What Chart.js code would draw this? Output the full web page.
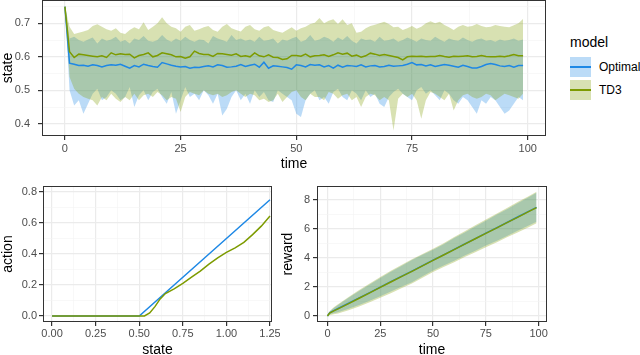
<!DOCTYPE html>
<html>
<head>
<meta charset="utf-8">
<script src="https://cdn.jsdelivr.net/npm/chart.js@4.4.1/dist/chart.umd.min.js"></script>
<style>
  body { margin: 0; background: #fff; width: 640px; height: 355px; overflow: hidden; position: relative;
         font-family: "Liberation Sans", Arial, sans-serif; }
  canvas { position: absolute; }
  .lg { position: absolute; color: #000; white-space: nowrap; }
  .key { position: absolute; width: 21px; height: 20px; }
  .key div { position: absolute; left: 0; right: 0; top: 9px; height: 2px; }
</style>
</head>
<body>
<canvas id="stateChart" width="560" height="178" style="left:0px;top:0px"></canvas>
<canvas id="actionChart" width="280" height="175" style="left:0px;top:180px"></canvas>
<canvas id="rewardChart" width="280" height="175" style="left:280px;top:180px"></canvas>

<div class="lg" style="left:570px;top:34px;font-size:14px">model</div>
<div class="key" style="left:570px;top:57px;background:rgba(30,136,229,0.3)"><div style="background:#1E88E5"></div></div>
<div class="lg" style="left:599px;top:60px;font-size:12px">Optimal</div>
<div class="key" style="left:570px;top:80px;background:rgba(125,155,0,0.3)"><div style="background:#7D9B00"></div></div>
<div class="lg" style="left:599px;top:83px;font-size:12px">TD3</div>

<script>
// ---- top panel: state over time ----
const time = [0,1,2,3,4,5,6,7,8,9,10,11,12,13,14,15,16,17,18,19,20,21,22,23,24,25,26,27,28,29,
  30,31,32,33,34,35,36,37,38,39,40,41,42,43,44,45,46,47,48,49,50,51,52,53,54,55,56,57,58,59,
  60,61,62,63,64,65,66,67,68,69,70,71,72,73,74,75,76,77,78,79,80,81,82,83,84,85,86,87,88,89,
  90,91,92,93,94,95,96,97,98,99];

const optMean = [0.750,0.581,0.578,0.574,0.575,0.572,0.576,0.574,0.570,0.574,0.576,0.575,0.578,0.572,0.566,0.574,0.570,0.578,0.574,0.571,
  0.569,0.583,0.579,0.575,0.572,0.570,0.571,0.566,0.569,0.568,0.571,0.573,0.570,0.576,0.574,0.569,0.570,0.572,0.577,0.571,
  0.575,0.578,0.569,0.584,0.566,0.573,0.572,0.570,0.568,0.563,0.576,0.574,0.570,0.577,0.575,0.576,0.570,0.574,0.566,0.575,
  0.569,0.574,0.573,0.571,0.576,0.570,0.573,0.574,0.570,0.571,0.575,0.572,0.573,0.574,0.578,0.583,0.576,0.577,0.573,0.576,
  0.571,0.574,0.577,0.575,0.572,0.569,0.575,0.571,0.567,0.567,0.571,0.577,0.580,0.577,0.573,0.571,0.574,0.569,0.574,0.574];
const optUpper = [0.750,0.655,0.660,0.650,0.645,0.652,0.658,0.640,0.655,0.648,0.652,0.660,0.645,0.650,0.640,0.655,0.650,0.662,0.648,0.645,
  0.650,0.665,0.652,0.645,0.655,0.648,0.660,0.650,0.645,0.652,0.650,0.640,0.662,0.655,0.650,0.645,0.665,0.650,0.655,0.648,
  0.652,0.645,0.660,0.648,0.650,0.655,0.640,0.652,0.648,0.655,0.660,0.645,0.650,0.665,0.648,0.652,0.660,0.655,0.645,0.658,
  0.650,0.662,0.648,0.640,0.655,0.650,0.652,0.645,0.660,0.648,0.650,0.655,0.645,0.650,0.658,0.652,0.645,0.655,0.650,0.648,
  0.660,0.652,0.645,0.655,0.650,0.648,0.658,0.650,0.645,0.652,0.655,0.648,0.650,0.645,0.652,0.648,0.650,0.655,0.648,0.652];
const optLower = [0.750,0.500,0.455,0.470,0.430,0.460,0.490,0.505,0.470,0.480,0.500,0.490,0.470,0.480,0.510,0.450,0.485,0.500,0.470,0.495,
  0.505,0.480,0.460,0.495,0.430,0.470,0.510,0.480,0.490,0.470,0.500,0.485,0.460,0.490,0.425,0.445,0.480,0.500,0.470,0.490,
  0.460,0.500,0.480,0.495,0.470,0.465,0.500,0.490,0.480,0.470,0.430,0.420,0.470,0.490,0.500,0.470,0.480,0.460,0.495,0.505,
  0.480,0.470,0.500,0.490,0.470,0.500,0.480,0.490,0.460,0.450,0.480,0.495,0.505,0.490,0.480,0.470,0.500,0.510,0.490,0.500,
  0.485,0.470,0.500,0.490,0.470,0.460,0.480,0.470,0.450,0.430,0.470,0.460,0.480,0.470,0.450,0.430,0.440,0.460,0.480,0.470];

const td3Mean = [0.750,0.615,0.598,0.608,0.606,0.604,0.602,0.600,0.603,0.598,0.612,0.606,0.609,0.607,0.608,0.597,0.604,0.607,0.612,0.600,
  0.604,0.612,0.609,0.606,0.600,0.601,0.596,0.600,0.617,0.610,0.607,0.607,0.601,0.610,0.609,0.607,0.605,0.609,0.601,0.603,
  0.600,0.612,0.603,0.600,0.606,0.599,0.598,0.592,0.594,0.604,0.604,0.602,0.608,0.600,0.603,0.604,0.606,0.601,0.606,0.612,
  0.608,0.611,0.602,0.605,0.599,0.603,0.611,0.608,0.604,0.607,0.604,0.601,0.598,0.591,0.600,0.602,0.601,0.602,0.600,0.601,
  0.601,0.604,0.601,0.599,0.602,0.601,0.602,0.603,0.600,0.601,0.604,0.601,0.600,0.600,0.602,0.600,0.603,0.607,0.603,0.603];
const td3Upper = [0.750,0.690,0.668,0.672,0.676,0.680,0.692,0.697,0.690,0.682,0.678,0.685,0.672,0.668,0.680,0.688,0.682,0.703,0.680,0.690,
  0.700,0.718,0.700,0.690,0.685,0.675,0.690,0.695,0.678,0.682,0.688,0.692,0.680,0.675,0.690,0.698,0.685,0.680,0.676,0.690,
  0.695,0.682,0.678,0.688,0.692,0.680,0.676,0.672,0.680,0.688,0.678,0.685,0.690,0.698,0.702,0.716,0.700,0.708,0.712,0.698,
  0.712,0.695,0.700,0.672,0.675,0.685,0.692,0.696,0.700,0.705,0.698,0.688,0.690,0.680,0.685,0.692,0.684,0.690,0.700,0.706,
  0.700,0.705,0.695,0.688,0.680,0.690,0.695,0.690,0.692,0.698,0.692,0.688,0.690,0.695,0.692,0.690,0.688,0.694,0.700,0.713];
const td3Lower = [0.750,0.540,0.505,0.490,0.480,0.475,0.470,0.455,0.480,0.470,0.490,0.475,0.465,0.480,0.470,0.490,0.470,0.485,0.490,0.480,
  0.495,0.485,0.470,0.480,0.475,0.435,0.480,0.495,0.490,0.485,0.500,0.490,0.485,0.490,0.480,0.485,0.495,0.500,0.490,0.480,
  0.490,0.485,0.470,0.475,0.465,0.470,0.490,0.465,0.480,0.495,0.500,0.480,0.470,0.490,0.480,0.480,0.470,0.495,0.490,0.475,
  0.485,0.490,0.470,0.480,0.450,0.480,0.490,0.485,0.470,0.480,0.470,0.380,0.475,0.490,0.480,0.490,0.470,0.415,0.470,0.495,
  0.490,0.480,0.470,0.490,0.440,0.470,0.485,0.490,0.480,0.475,0.480,0.490,0.485,0.470,0.480,0.490,0.485,0.480,0.475,0.490];

// ---- bottom left: policy (action vs state) ----
const optState = [0, 0.5, 1.25];
const optAction = [0, 0, 0.75];
const td3State = [0, 0.53, 0.56, 0.59, 0.62, 0.65, 0.70, 0.75, 0.80, 0.85, 0.90, 0.95, 1.00, 1.05, 1.10, 1.15, 1.20, 1.25];
const td3Action = [0, 0, 0.02, 0.06, 0.11, 0.145, 0.175, 0.21, 0.25, 0.29, 0.335, 0.375, 0.41, 0.44, 0.475, 0.525, 0.58, 0.645];

// ---- bottom right: cumulative reward ----
const rewardTime = [0,1,3,5,10,15,20,25,30,35,40,45,50,55,60,65,70,75,80,85,90,95,99];
const optReward = [0,0.22,0.38,0.52,0.88,1.25,1.62,2.0,2.37,2.74,3.1,3.48,3.86,4.22,4.6,4.97,5.34,5.72,6.08,6.45,6.83,7.2,7.5];
const optRewardHi = [0,0.32,0.56,0.77,1.26,1.73,2.18,2.63,3.05,3.46,3.86,4.22,4.58,4.96,5.38,5.77,6.18,6.58,6.98,7.37,7.78,8.17,8.5];
const optRewardLo = [0,0.12,0.2,0.27,0.5,0.77,1.06,1.37,1.69,2.02,2.34,2.74,3.14,3.48,3.82,4.17,4.5,4.86,5.18,5.53,5.88,6.23,6.5];
const td3Reward = [0,0.2,0.36,0.5,0.86,1.23,1.6,1.98,2.35,2.72,3.08,3.46,3.84,4.21,4.58,4.96,5.33,5.7,6.07,6.44,6.81,7.18,7.48];
const td3RewardHi = [0,0.34,0.6,0.82,1.32,1.8,2.25,2.7,3.12,3.52,3.92,4.28,4.64,5.03,5.45,5.85,6.26,6.66,7.06,7.45,7.86,8.25,8.58];
const td3RewardLo = [0,0.06,0.12,0.18,0.4,0.66,0.95,1.26,1.58,1.92,2.24,2.64,3.04,3.39,3.71,4.07,4.4,4.74,5.08,5.43,5.76,6.11,6.4];

const BLUE = '#1E88E5', GREEN = '#7D9B00';
const BLUE_FILL = 'rgba(30,136,229,0.3)', GREEN_FILL = 'rgba(125,155,0,0.3)';

Chart.defaults.font.family = '"Liberation Sans", Arial, sans-serif';

function pts(xs, ys) {
  return xs.map((x, i) => ({ x: x, y: ys[i] }));
}

function onStep(v, s) {
  return Math.abs(v / s - Math.round(v / s)) < 1e-6;
}

function axis(o) {
  const major = v => onStep(v, o.major);
  return {
    type: 'linear', min: o.min, max: o.max,
    afterFit: s => {
      if (o.width) s.width = o.width;
      if (o.height) s.height = o.height;
      // no extra room for the end labels, the panel sizes are fixed
      s.paddingTop = 0; s.paddingBottom = 0; s.paddingLeft = 0; s.paddingRight = 0;
    },
    ticks: {
      stepSize: o.step, includeBounds: false, autoSkip: false, maxRotation: 0,
      padding: o.pad, color: '#4D4D4D', font: { size: 11 },
      callback: v => major(v) ? o.fmt(v) : ''
    },
    grid: {
      color: c => (c.tick && major(c.tick.value)) ? '#EBEBEB' : '#F3F3F3',
      lineWidth: c => (c.tick && major(c.tick.value)) ? 1.2 : 0.6,
      tickColor: c => (c.tick && major(c.tick.value)) ? '#333333' : 'rgba(0,0,0,0)',
      tickLength: 4
    },
    border: { display: false },
    title: { display: true, text: o.title, color: '#000', font: { size: 14 }, padding: o.titlePad }
  };
}

const panelBorder = {
  id: 'panelBorder',
  afterDatasetsDraw(chart) {
    const a = chart.chartArea, ctx = chart.ctx;
    ctx.save();
    ctx.strokeStyle = '#333333';
    ctx.lineWidth = 1;
    ctx.strokeRect(Math.round(a.left) + 0.5, Math.round(a.top) + 0.5,
      Math.round(a.right - a.left) - 1, Math.round(a.bottom - a.top) - 1);
    ctx.restore();
  }
};

function band(data, fill, target, order) {
  return { data: data, borderWidth: 0, pointRadius: 0, backgroundColor: fill, fill: target, order: order, tension: 0 };
}
function line(data, color, order) {
  return { data: data, borderColor: color, borderWidth: 1.5, pointRadius: 0, fill: false, order: order, tension: 0 };
}

function makeChart(id, datasets, xAxis, yAxis, padding) {
  return new Chart(document.getElementById(id), {
    type: 'line',
    data: { datasets: datasets },
    options: {
      responsive: false, animation: false, devicePixelRatio: 1,
      layout: { padding: padding },
      plugins: { legend: { display: false }, tooltip: { enabled: false } },
      scales: { x: xAxis, y: yAxis }
    },
    plugins: [panelBorder]
  });
}

makeChart('stateChart', [
    band(pts(time, optLower), BLUE_FILL, false, 5),
    band(pts(time, optUpper), BLUE_FILL, 0, 4),
    band(pts(time, td3Lower), GREEN_FILL, false, 3),
    band(pts(time, td3Upper), GREEN_FILL, 2, 2),
    line(pts(time, optMean), BLUE, 1),
    line(pts(time, td3Mean), GREEN, 0)
  ],
  axis({ min: -4.95, max: 103.95, step: 12.5, major: 25, fmt: v => String(Math.round(v)),
         title: 'time', height: 42, pad: 2, titlePad: { top: 0, bottom: 5 } }),
  axis({ min: 0.3636, max: 0.7697, step: 0.05, major: 0.1, fmt: v => v.toFixed(1),
         title: 'state', width: 42, pad: 8, titlePad: { top: 0, bottom: 0 } }),
  { top: 0, right: 14, left: 0, bottom: 0 });

makeChart('actionChart', [
    line(pts(optState, optAction), BLUE, 1),
    line(pts(td3State, td3Action), GREEN, 0)
  ],
  axis({ min: -0.052, max: 1.2615, step: 0.125, major: 0.25, fmt: v => v.toFixed(2),
         title: 'state', height: 33, pad: 1, titlePad: { top: 0, bottom: -4 } }),
  axis({ min: -0.039, max: 0.839, step: 0.1, major: 0.2, fmt: v => v.toFixed(1),
         title: 'action', width: 43, pad: 2, titlePad: { top: 0, bottom: 0 } }),
  { top: 6, right: 8, left: 0, bottom: 0 });

makeChart('rewardChart', [
    band(pts(rewardTime, optRewardLo), BLUE_FILL, false, 5),
    band(pts(rewardTime, optRewardHi), BLUE_FILL, 0, 4),
    band(pts(rewardTime, td3RewardLo), GREEN_FILL, false, 3),
    band(pts(rewardTime, td3RewardHi), GREEN_FILL, 2, 2),
    line(pts(rewardTime, optReward), BLUE, 1),
    line(pts(rewardTime, td3Reward), GREEN, 0)
  ],
  axis({ min: -4.95, max: 103.95, step: 12.5, major: 25, fmt: v => String(Math.round(v)),
         title: 'time', height: 33, pad: 1, titlePad: { top: 0, bottom: -4 } }),
  axis({ min: -0.41, max: 8.97, step: 1, major: 2, fmt: v => String(Math.round(v)),
         title: 'reward', width: 37, pad: 3, titlePad: { top: 0, bottom: 0 } }),
  { top: 6, right: 13, left: 0, bottom: 0 });
</script>
</body>
</html>
